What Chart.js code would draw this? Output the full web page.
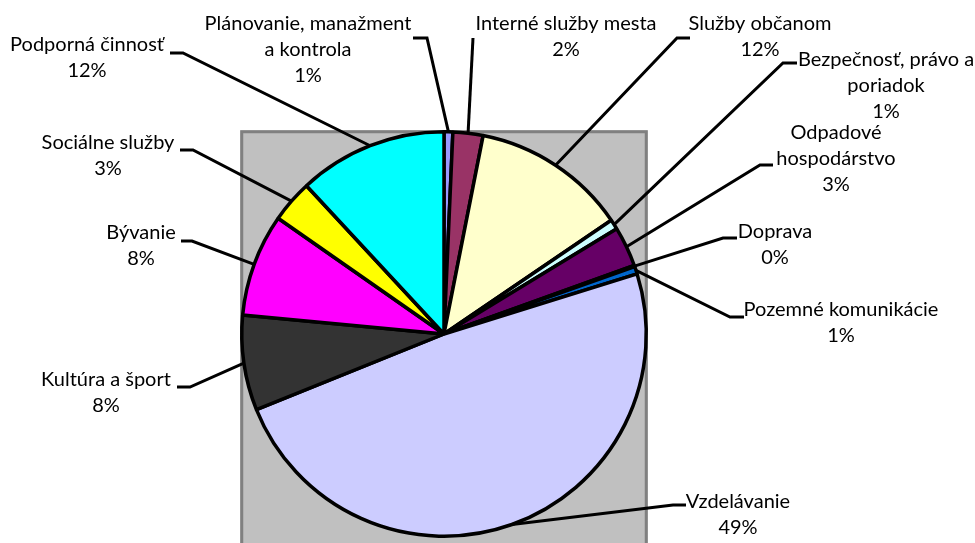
<!DOCTYPE html>
<html>
<head>
<meta charset="utf-8">
<script src="https://cdn.jsdelivr.net/npm/chart.js@4"></script>
<style>
  html, body { margin: 0; padding: 0; background: #fff; }
  #wrap { width: 975px; height: 543px; position: relative; }
</style>
</head>
<body>
<div id="wrap"><canvas id="pie"></canvas></div>
<script>
// Categories (label lines as Excel wrapped them)
const categories = [
  ['Plánovanie, manažment', 'a kontrola'],
  ['Interné služby mesta'],
  ['Služby občanom'],
  ['Bezpečnosť, právo a', 'poriadok'],
  ['Odpadové', 'hospodárstvo'],
  ['Doprava'],
  ['Pozemné komunikácie'],
  ['Vzdelávanie'],
  ['Kultúra a šport'],
  ['Bývanie'],
  ['Sociálne služby'],
  ['Podporná činnosť']
];

// Share of budget, percent
const shares = [0.7, 2.4, 12.4, 0.8, 3.2, 0.1, 0.6, 48.7, 7.6, 8.2, 3.4, 11.9];

const sliceColors = ['#9999FF', '#993366', '#FFFFCC', '#CCFFFF', '#660066', '#FF8080',
                     '#0066CC', '#CCCCFF', '#333333', '#FF00FF', '#FFFF00', '#00FFFF'];

// Where each label block sits: text centre x, first line y, leader elbow and tick end
const labelLayout = [
  { tx: 308, ty: 24, ex: 427, ey: 38, hx: 413 },
  { tx: 566, ty: 24, ex: 473, ey: 38, hx: 473 },
  { tx: 760, ty: 24, ex: 677, ey: 38, hx: 690 },
  { tx: 886, ty: 60, ex: 783, ey: 63, hx: 797 },
  { tx: 836, ty: 133, ex: 760, ey: 165, hx: 773 },
  { tx: 775, ty: 232, ex: 723, ey: 238, hx: 737 },
  { tx: 841, ty: 310, ex: 730, ey: 317, hx: 744 },
  { tx: 738, ty: 502, ex: 673, ey: 505, hx: 686 },
  { tx: 106, ty: 380, ex: 190, ey: 387, hx: 177 },
  { tx: 141, ty: 233, ex: 192, ey: 241, hx: 181 },
  { tx: 108, ty: 143, ex: 193, ey: 150, hx: 180 },
  { tx: 87, ty: 45, ex: 183, ey: 53, hx: 170 }
];

const labelFont = '20px Lato, "Open Sans", sans-serif';
const lineGap = 26;

// Gray plot area behind the pie
const plotBox = {
  id: 'plotBox',
  beforeDatasetsDraw(chart) {
    const arc = chart.getDatasetMeta(0).data[0];
    if (!arc) return;
    const ctx = chart.ctx;
    const r = arc.outerRadius + 1.5;
    ctx.save();
    ctx.fillStyle = '#C0C0C0';
    ctx.fillRect(arc.x - r, arc.y - r, 2 * r, 2 * r + 20);
    ctx.strokeStyle = '#808080';
    ctx.lineWidth = 3;
    ctx.strokeRect(arc.x - r + 1.5, arc.y - r + 1.5, 2 * r - 3, 2 * r + 20);
    ctx.restore();
  }
};

// Outside labels with leader lines to the middle of each slice
const outsideLabels = {
  id: 'outsideLabels',
  afterDatasetsDraw(chart) {
    const meta = chart.getDatasetMeta(0);
    const data = chart.data.datasets[0].data;
    const total = data.reduce((a, b) => a + b, 0);
    const ctx = chart.ctx;
    ctx.save();
    meta.data.forEach((arc, i) => {
      const pos = labelLayout[i];
      const mid = (arc.startAngle + arc.endAngle) / 2;
      const ax = arc.x + Math.cos(mid) * arc.outerRadius;
      const ay = arc.y + Math.sin(mid) * arc.outerRadius;
      ctx.strokeStyle = '#000';
      ctx.lineWidth = 3;
      ctx.beginPath();
      ctx.moveTo(ax, ay);
      ctx.lineTo(pos.ex, pos.ey);
      ctx.lineTo(pos.hx, pos.ey);
      ctx.stroke();

      const lines = chart.data.labels[i].concat([Math.round(data[i] / total * 100) + '%']);
      ctx.fillStyle = '#000';
      ctx.font = labelFont;
      ctx.textAlign = 'center';
      ctx.textBaseline = 'middle';
      lines.forEach((t, k) => ctx.fillText(t, pos.tx, pos.ty + k * lineGap));
    });
    ctx.restore();
  }
};

new Chart(document.getElementById('pie'), {
  type: 'pie',
  data: {
    labels: categories,
    datasets: [{
      data: shares,
      backgroundColor: sliceColors,
      borderColor: '#000',
      borderWidth: 3.5,
      borderJoinStyle: 'bevel'
    }]
  },
  options: {
    responsive: true,
    maintainAspectRatio: false,
    animation: false,
    layout: { padding: { left: 240, right: 327, top: 130, bottom: 5 } },
    plugins: {
      legend: { display: false },
      tooltip: { enabled: false }
    }
  },
  plugins: [plotBox, outsideLabels]
});
</script>
</body>
</html>
